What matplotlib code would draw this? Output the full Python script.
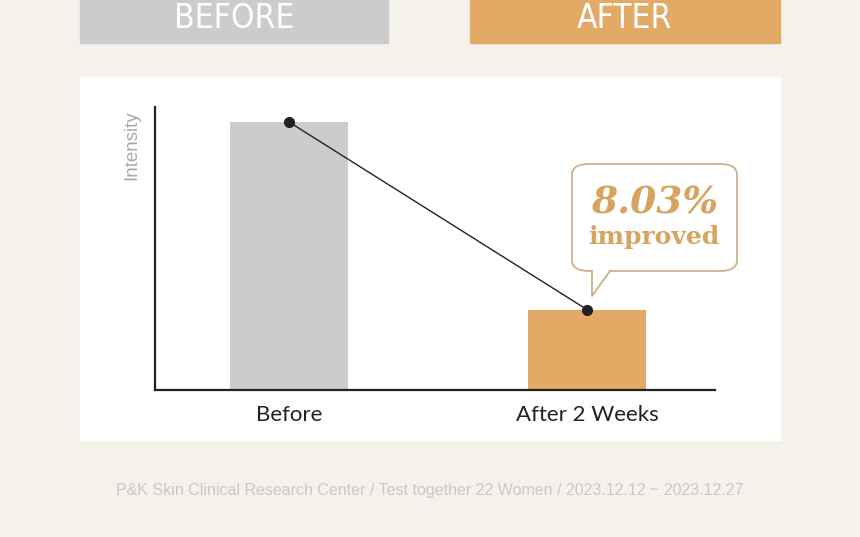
import matplotlib
matplotlib.use("Agg")
import matplotlib.pyplot as plt
from matplotlib.patches import Rectangle, FancyBboxPatch, Polygon
from matplotlib.lines import Line2D

# chart data
categories = ["Before", "After 2 Weeks"]
intensity = [100, 30]
bar_colors = ["#cccccc", "#e2aa64"]
improvement = "8.03%"
footer = "P&K Skin Clinical Research Center / Test together 22 Women / 2023.12.12 ~ 2023.12.27"

W, H = 860, 537
BG = "#f5f2ec"


def fx(px):
    return px / W


def fy(py):
    return 1 - py / H


fig = plt.figure(figsize=(W / 100, H / 100), dpi=100, facecolor=BG)

# header boxes
fig.patches.append(Rectangle((fx(80), fy(43)), fx(388) - fx(80), fy(0) - fy(43),
                             transform=fig.transFigure, color="#cccccc", zorder=0))
fig.patches.append(Rectangle((fx(470), fy(43)), fx(780) - fx(470), fy(0) - fy(43),
                             transform=fig.transFigure, color="#e2aa64", zorder=0))
fig.text(fx(234), fy(19), "BEFORE", color="white", fontsize=24, ha="center", va="center",
         family="DejaVu Sans", fontstretch="condensed")
fig.text(fx(624), fy(19), "AFTER", color="white", fontsize=24, ha="center", va="center",
         family="DejaVu Sans", fontstretch="condensed")

# white panel
fig.patches.append(Rectangle((fx(80), fy(440)), fx(780) - fx(80), fy(77) - fy(440),
                             transform=fig.transFigure, color="white", zorder=0))

# axes
ax = fig.add_axes([fx(155), fy(390), fx(715) - fx(155), fy(107) - fy(390)])
ax.set_zorder(2)
ax.patch.set_alpha(0)
x = [0, 1]
ax.bar(x, intensity, width=0.396, color=bar_colors, zorder=1)
ax.plot(x, intensity, color="#222222", lw=1, marker="o", markersize=7, zorder=3,
        clip_on=False)
ax.set_xlim(-0.4497, 1.4295)
ax.set_ylim(0, 100 * 283 / 268)
for s in ["top", "right"]:
    ax.spines[s].set_visible(False)
for s in ["left", "bottom"]:
    ax.spines[s].set_linewidth(1.6)
    ax.spines[s].set_color("#222222")
ax.set_yticks([])
ax.set_xticks(x)
ax.set_xticklabels(categories, fontsize=16, family="Lato", color="#222222")
ax.tick_params(axis="x", length=0, pad=11)
ax.set_ylabel("Intensity", fontsize=13.5, color="#aaaaaa", family="Liberation Sans")
ax.yaxis.set_label_coords(-0.027, 0.866)

# callout bubble
edge = "#cdb287"
box = FancyBboxPatch((fx(572), fy(271)), fx(737) - fx(572), fy(164) - fy(271),
                     boxstyle="round,pad=0,rounding_size=0.02",
                     transform=fig.transFigure, facecolor="white", edgecolor=edge,
                     lw=1.3, zorder=4)
fig.patches.append(box)
tail = [(fx(592), fy(269)), (fx(610), fy(269)), (fx(592), fy(296))]
fig.patches.append(Polygon(tail, closed=True, transform=fig.transFigure,
                           facecolor="white", edgecolor="none", zorder=5))
fig.lines.append(Line2D([fx(592), fx(592), fx(610)], [fy(271), fy(296), fy(271)],
                        transform=fig.transFigure, color=edge, lw=1.3, zorder=6))
gold = "#d6a45e"
fig.text(fx(655), fy(203), improvement, color=gold, fontsize=27, fontweight="bold",
         fontstyle="italic", family="DejaVu Serif", ha="center", va="center", zorder=7)
fig.text(fx(654), fy(237), "improved", color=gold, fontsize=18, fontweight="bold",
         family="DejaVu Serif", ha="center", va="center", zorder=7)

# footer
fig.text(fx(430), fy(491), footer, color="#c8c8c8", fontsize=11.5, ha="center",
         va="center", family="Liberation Sans")

fig.savefig("out.png", dpi=100, facecolor=BG)
